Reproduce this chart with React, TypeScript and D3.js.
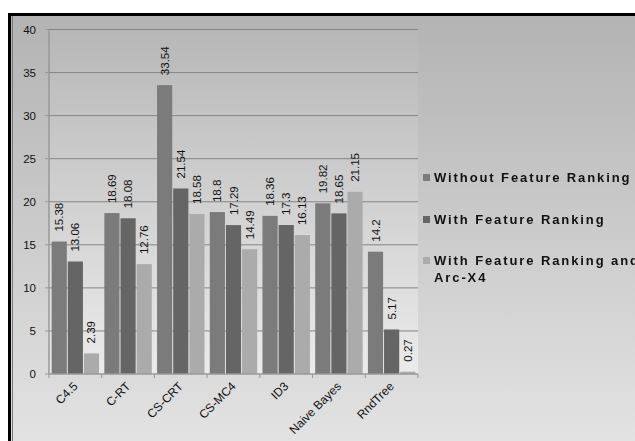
import React from "react";
import * as d3 from "d3";

const categories = ["C4.5", "C-RT", "CS-CRT", "CS-MC4", "ID3", "Naive Bayes", "RndTree"];
const seriesNames = ["Without Feature Ranking", "With Feature Ranking", "With Feature Ranking and Arc-X4"];
const withoutRanking = [15.38, 18.69, 33.54, 18.8, 18.36, 19.82, 14.2];
const withRanking = [13.06, 18.08, 21.54, 17.29, 17.3, 18.65, 5.17];
const withRankingArc = [2.39, 12.76, 18.58, 14.49, 16.13, 21.15, 0.27];
const yTicks = [0, 5, 10, 15, 20, 25, 30, 35, 40];
const colors = ["#7b7b7b", "#656565", "#ababab"];

export default function App() {
  const W = 635, H = 441;
  const left = 49, right = 418, top = 29.5, bottom = 374;
  const series = [withoutRanking, withRanking, withRankingArc];
  const x0 = d3.scaleBand<string>().domain(categories).range([left, right]).paddingInner(0.1).paddingOuter(0.05);
  const xc = d3.scaleBand<string>().domain(categories).range([left, right]);
  const x1 = d3.scaleBand<number>().domain([0, 1, 2]).range([0, x0.bandwidth()]).paddingInner(0.06);
  const y = d3.scaleLinear().domain([0, 40]).range([bottom, top]);
  const font = "Arial, 'Liberation Sans', sans-serif";
  const legendRows = [
    { lines: [seriesNames[0]], y: 182 },
    { lines: [seriesNames[1]], y: 224 },
    { lines: ["With Feature Ranking and", "Arc-X4"], y: 265 },
  ];
  return (
    <svg width={W} height={H} style={{ position: "fixed", left: 0, top: 0 }} fontFamily={font}>
      <defs>
        <linearGradient id="bg" x1="0" y1="0" x2="0" y2="1">
          <stop offset="0" stopColor="#b3b3b3" />
          <stop offset="1" stopColor="#e4e4e4" />
        </linearGradient>
        <linearGradient id="pa" x1="0" y1="0" x2="0" y2="1">
          <stop offset="0" stopColor="#b7b7b7" />
          <stop offset="1" stopColor="#ebebeb" />
        </linearGradient>
      </defs>
      <rect x={0} y={0} width={W} height={H} fill="#fff" />
      <rect x={9} y={14} width={W} height={H} fill="url(#bg)" />
      <rect x={left} y={top} width={right - left} height={bottom - top} fill="url(#pa)" />
      {yTicks.map((t) => (
        <g key={"t" + t}>
          {t > 0 && <line x1={left} x2={right} y1={y(t)} y2={y(t)} stroke="#858585" strokeWidth={1} />}
          <line x1={left - 4} x2={left} y1={y(t)} y2={y(t)} stroke="#999" />
          <text x={36} y={y(t) + 4} textAnchor="end" fontSize={11.5} fill="#111">{t}</text>
        </g>
      ))}
      {series.map((vals, si) =>
        vals.map((v, ci) => {
          const c = categories[ci];
          const bx = (x0(c) as number) + (x1(si) as number);
          const bw = x1.bandwidth();
          return (
            <g key={`b${si}-${ci}`}>
              <rect x={bx} y={y(v)} width={bw} height={bottom - y(v)} fill={colors[si]} />
              <text
                transform={`translate(${bx + bw / 2 + 4},${y(v) - 10}) rotate(-90)`}
                fontSize={11.5}
                fill="#111"
              >
                {String(v)}
              </text>
            </g>
          );
        })
      )}
      <line x1={left} x2={left} y1={top} y2={bottom} stroke="#999" strokeWidth={1.5} />
      <line x1={left} x2={right} y1={bottom} y2={bottom} stroke="#999" strokeWidth={1.5} />
      {categories.map((c, i) => (
        <line key={"xt" + i} x1={xc(c) as number} x2={xc(c) as number} y1={bottom} y2={bottom + 4} stroke="#999" />
      ))}
      <line x1={right} x2={right} y1={bottom} y2={bottom + 4} stroke="#999" />
      {categories.map((c) => {
        const cx = (xc(c) as number) + xc.bandwidth() / 2;
        return (
          <text key={"xl" + c} transform={`translate(${cx + 3},${bottom + 13}) rotate(-45)`} textAnchor="end" fontSize={12} fill="#111">
            {c}
          </text>
        );
      })}
      {legendRows.map((r, i) => (
        <g key={"lg" + i}>
          <rect x={423} y={r.y - 8} width={7} height={7} fill={colors[i]} />
          {r.lines.map((l, j) => (
            <text key={j} x={434} y={r.y + j * 17} fontSize={13} fontWeight="bold" letterSpacing={1.9} fill="#111">
              {l}
            </text>
          ))}
        </g>
      ))}
      <rect x={9.5} y={14.5} width={W} height={H} fill="none" stroke="#000" strokeWidth={3} />
      <line x1={12.5} x2={12.5} y1={16} y2={H} stroke="#777" strokeWidth={1} />
    </svg>
  );
}
